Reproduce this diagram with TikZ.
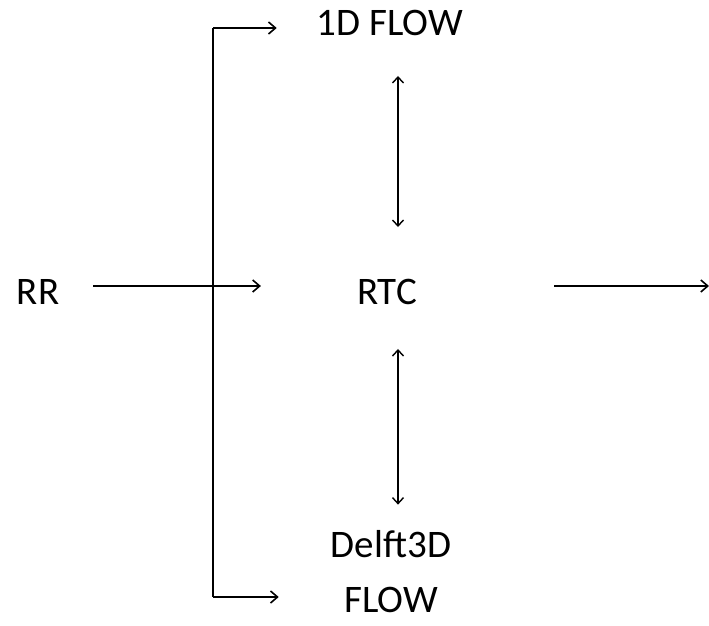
\documentclass[tikz,border=0pt]{standalone}
\usepackage{fontspec}
\setmainfont{Carlito}
\usetikzlibrary{arrows.meta,positioning,calc}
\tikzset{
  lbl/.style={inner sep=0pt, align=center, font=\fontsize{39}{55}\selectfont},
  flow/.style={-{Straight Barb[length=7pt,width=12pt]}, line width=1.6pt},
  link/.style={{Straight Barb[length=6pt,width=11pt]}-{Straight Barb[length=6pt,width=11pt]}, line width=1.4pt},
}
\begin{document}
\begin{tikzpicture}[x=1pt, y=-1pt]
  \useasboundingbox (0,0) rectangle (709,626);
  \node[lbl] (rr) at (38,292) {RR};
  \node[lbl] (rtc) at (387,292) {RTC};
  \node[lbl] (flow1d) at (390,23) {1D FLOW};
  \node[lbl] (delft) at (391,572) {Delft3D\\FLOW};
  \coordinate (top) at (213,28);
  \coordinate (bot) at (213,597);
  \coordinate (axis) at (398,0);
  \coordinate (out) at (709,286);
  \draw[line width=1.6pt] (top) -- (bot);
  \draw[flow, shorten <=34pt, shorten >=96pt] ([yshift=6pt]rr.east) -- ([yshift=6pt]rtc.west);
  \draw[flow, shorten >=40pt] (top) -- (top -| flow1d.west);
  \draw[flow, shorten >=52pt] (bot) -- (bot -| delft.west);
  \draw[link, shorten <=40pt, shorten >=52pt] (flow1d.south -| axis) -- (rtc.north -| axis);
  \draw[link, shorten <=44pt, shorten >=26pt] (rtc.south -| axis) -- (delft.north -| axis);
  \draw[flow, shorten <=137pt] ([yshift=6pt]rtc.east) -- (out);
\end{tikzpicture}
\end{document}
